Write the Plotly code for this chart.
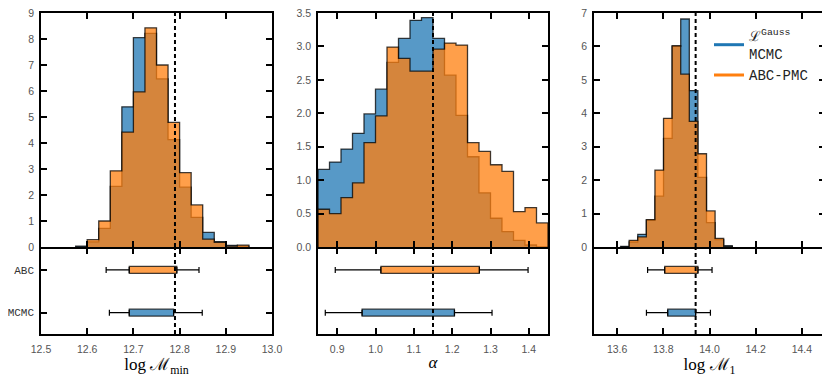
import plotly.graph_objects as go
from plotly.subplots import make_subplots

# ---------------- data ----------------
# histogram bins: (start, width) and densities
mmin_start, mmin_width = 12.575, 0.025
mmin_mcmc = [0.03, 0.20, 0.72, 2.33, 5.39, 8.05, 8.22, 6.47, 4.13, 2.30, 1.14, 0.56, 0.21, 0.06, 0.03]
mmin_abc = [0.00, 0.28, 1.00, 2.93, 4.42, 5.97, 8.43, 7.00, 4.79, 2.86, 1.62, 0.30, 0.18, 0.03, 0.07]

alpha_start, alpha_width = 0.85, 0.03
alpha_mcmc = [1.16, 1.27, 1.465, 1.70, 1.99, 2.36, 2.76, 3.12, 3.39, 3.43,
              3.12, 2.57, 1.97, 1.35, 0.81, 0.43, 0.23, 0.10, 0.03, 0.00]
alpha_abc = [0.565, 0.50, 0.74, 0.96, 1.56, 1.96, 2.99, 2.82, 2.63, 2.63,
             2.96, 3.05, 3.02, 1.56, 1.43, 1.23, 1.13, 0.53, 0.59, 0.36]

m1_start, m1_width = 13.615, 0.0372
m1_mcmc = [0.02, 0.15, 0.38, 0.80, 1.52, 3.25, 6.00, 6.82, 4.68, 2.08, 0.73, 0.22, 0.04]
m1_abc = [0.00, 0.20, 0.30, 0.82, 2.30, 3.85, 6.02, 5.17, 3.76, 2.79, 1.08, 0.26, 0.01]

# true values (dashed lines)
true_vals = [12.79, 1.15, 13.94]

# box summaries: [whisker_low, box_low, box_high, whisker_high]
mmin_box_abc = [12.641, 12.691, 12.794, 12.842]
mmin_box_mcmc = [12.648, 12.691, 12.787, 12.849]
alpha_box_abc = [0.895, 1.014, 1.271, 1.398]
alpha_box_mcmc = [0.869, 0.965, 1.206, 1.304]
m1_box_abc = [13.732, 13.806, 13.950, 14.011]
m1_box_mcmc = [13.727, 13.819, 13.940, 14.004]

method_labels = ["ABC", "MCMC"]
method_pos = [1, 0]

x_ranges = [[12.5, 13.0], [0.85, 1.45], [13.5, 14.5]]
x_ticks = [[12.5, 12.6, 12.7, 12.8, 12.9, 13.0],
           [0.9, 1.0, 1.1, 1.2, 1.3, 1.4],
           [13.6, 13.8, 14.0, 14.2, 14.4]]
x_ticktext = [["12.5", "12.6", "12.7", "12.8", "12.9", "13.0"],
              ["0.9", "1.0", "1.1", "1.2", "1.3", "1.4"],
              ["13.6", "13.8", "14.0", "14.2", "14.4"]]
y_ranges = [[0, 9], [0, 3.5], [0, 7]]
y_dticks = [1, 0.5, 1]
y_formats = ["d", ".1f", "d"]
x_titles = ["log ℳ<sub>min</sub>",
            "<i>α</i>",
            "log ℳ<sub>1</sub>"]

legend_names = ["ℒ<sup>Gauss</sup><br>MCMC", "ABC-PMC"]

# ---------------- styles ----------------
BLUE_FILL = "rgba(31,119,180,0.75)"
ORANGE_FILL = "rgba(255,127,14,0.75)"
EDGE = "rgba(0,0,0,0.75)"
BLUE_LINE = "#1f77b4"
ORANGE_LINE = "#ff7f0e"

OFF = 8  # page body margin
W, H = 830 - OFF, 385 - OFF
LW = 1.5
col_px = [(41, 272), (318, 548), (594, 825)]
hist_px = (13, 247)
box_px = (247 + LW, 334)


def px_dom_x(a, b):
    return [(a - OFF) / W, (b - OFF) / W]


def px_dom_y(top, bottom):
    return [(H - (bottom - OFF)) / H, (H - (top - OFF)) / H]


def step_xy(start, width, heights):
    edges = [start + i * width for i in range(len(heights) + 1)]
    xs = [edges[0]] + edges
    ys = [0] + list(heights) + [0]
    return xs, ys


fig = make_subplots(rows=2, cols=3)

hists = [
    (mmin_start, mmin_width, mmin_mcmc, mmin_abc),
    (alpha_start, alpha_width, alpha_mcmc, alpha_abc),
    (m1_start, m1_width, m1_mcmc, m1_abc),
]
boxes = [
    (mmin_box_abc, mmin_box_mcmc),
    (alpha_box_abc, alpha_box_mcmc),
    (m1_box_abc, m1_box_mcmc),
]

for c, (start, width, hm, ha) in enumerate(hists, start=1):
    for heights, fillc in ((hm, BLUE_FILL), (ha, ORANGE_FILL)):
        xs, ys = step_xy(start, width, heights)
        fig.add_trace(go.Scatter(x=xs, y=ys, mode="lines", line_shape="hv",
                                 fill="tozeroy", fillcolor=fillc,
                                 line=dict(color=EDGE, width=1.3),
                                 showlegend=False, hoverinfo="skip"),
                      row=1, col=c)

for c, (babc, bmcmc) in enumerate(boxes, start=1):
    for stats, pos, fillc in ((babc, method_pos[0], ORANGE_FILL), (bmcmc, method_pos[1], BLUE_FILL)):
        lo, qlo, qhi, hi = stats
        fig.add_trace(go.Scatter(x=[qlo, qhi], y=[pos, pos], mode="markers",
                                 marker=dict(size=1, opacity=0),
                                 error_x=dict(type="data", symmetric=False,
                                              array=[0, hi - qhi], arrayminus=[qlo - lo, 0],
                                              width=3, thickness=1.2, color="black"),
                                 showlegend=False, hoverinfo="skip"),
                      row=2, col=c)
        fig.add_trace(go.Bar(x=[qhi - qlo], base=[qlo], y=[pos], orientation="h",
                             width=0.16, marker=dict(color=fillc, line=dict(color=EDGE, width=1.2)),
                             showlegend=False, hoverinfo="skip"),
                      row=2, col=c)

# legend entries
for name, colr in zip(legend_names, (BLUE_LINE, ORANGE_LINE)):
    fig.add_trace(go.Scatter(x=[None], y=[None], mode="lines", name=name,
                             line=dict(color=colr, width=3)), row=1, col=3)

# dashed truth lines
for c, v in enumerate(true_vals, start=1):
    for r in (1, 2):
        fig.add_vline(x=v, row=r, col=c, line=dict(color="black", width=2, dash="4px,3px"))

tick_font = dict(family="Liberation Sans", size=10.5, color="#555")
axis_common = dict(showline=True, linecolor="black", linewidth=LW, mirror="ticks",
                   ticks="inside", ticklen=6, tickwidth=1.5, tickcolor="black",
                   showgrid=False, zeroline=False, automargin=False, tickfont=tick_font,
                   ticklabeloverflow="allow")

for i in range(3):
    c = i + 1
    # histogram row
    fig.update_xaxes(row=1, col=c, domain=px_dom_x(*col_px[i]), range=x_ranges[i],
                     tickvals=x_ticks[i], showticklabels=False, **axis_common)
    fig.update_yaxes(row=1, col=c, domain=px_dom_y(*hist_px), range=y_ranges[i],
                     dtick=y_dticks[i], tick0=0, tickformat=y_formats[i],
                     ticklabelstandoff=3, **axis_common)
    # box row
    fig.update_xaxes(row=2, col=c, domain=px_dom_x(*col_px[i]), range=x_ranges[i],
                     tickvals=x_ticks[i], ticktext=x_ticktext[i], ticklabelstandoff=5,
                     title=dict(text=x_titles[i], standoff=2,
                                font=dict(family="Liberation Serif", size=17, color="black")),
                     **axis_common)
    if c == 1:
        fig.update_yaxes(row=2, col=c, domain=px_dom_y(*box_px), range=[-0.5, 1.5],
                         tickvals=method_pos, ticktext=method_labels, ticklabelstandoff=3,
                         **{**axis_common, "tickfont": dict(family="Liberation Mono", size=11, color="#333")})
    else:
        fig.update_yaxes(row=2, col=c, domain=px_dom_y(*box_px), range=[-0.5, 1.5],
                         **{**axis_common, "ticks": "", "showticklabels": False})

fig.update_layout(
    width=W, height=H,
    margin=dict(l=0, r=0, t=0, b=0),
    paper_bgcolor="white", plot_bgcolor="white",
    barmode="overlay",
    showlegend=True,
    legend=dict(x=(709 - OFF) / W, y=1 - (20 - OFF) / H, xanchor="left", yanchor="top",
                bgcolor="rgba(0,0,0,0)", valign="middle",
                font=dict(family="Liberation Mono", size=14, color="#222"),
                itemwidth=30, tracegroupgap=6),
)

fig.write_html("out.html")
